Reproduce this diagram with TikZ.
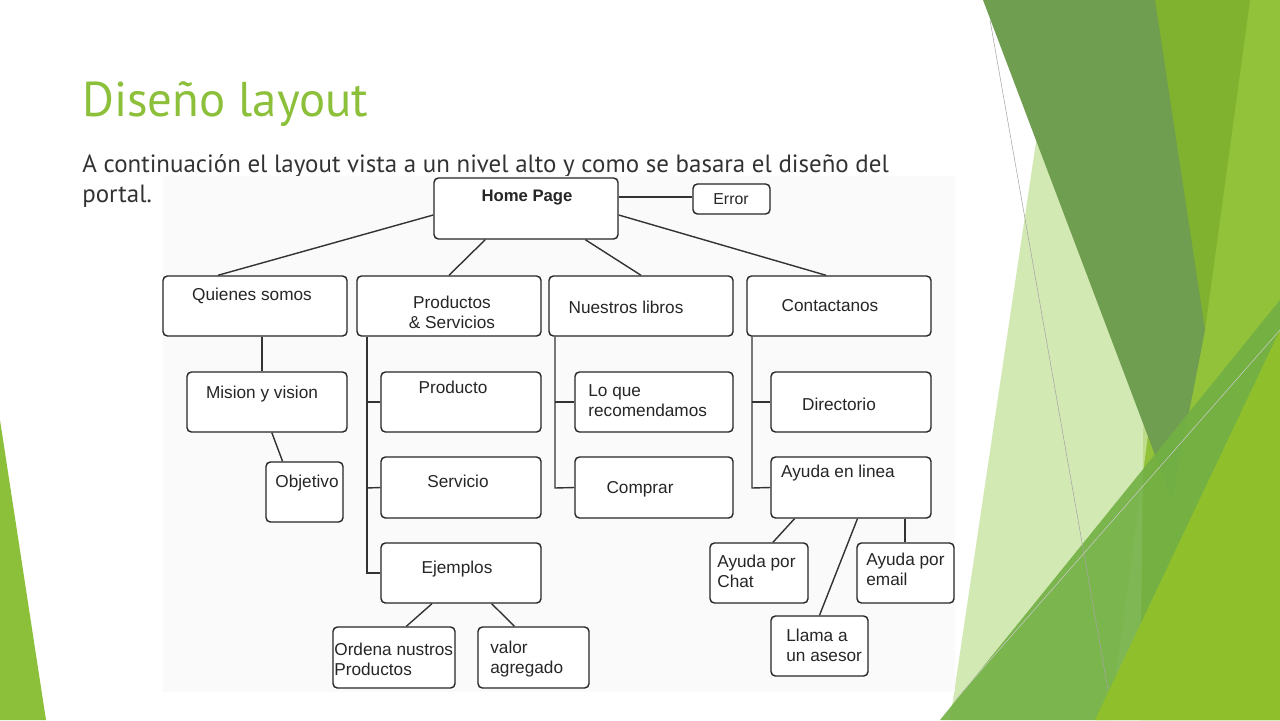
\documentclass[tikz,border=0pt]{standalone}
\usepackage{fontspec}
\setmainfont{Liberation Sans}
\newfontfamily\titlefont{PT Sans}
\usetikzlibrary{calc}
\definecolor{tgreen}{HTML}{8DC03A}
\tikzset{
 box/.style={draw=black!85,line width=0.8pt,rounded corners=2.5pt,fill=white,inner sep=0pt},
 lbl/.style={font=\fontsize{9.8}{11.5}\selectfont,align=left,inner sep=0pt,text=black!85},
 ln/.style={draw=black!80,line width=0.8pt},
 sub/.style={anchor=base west,inner sep=0pt,text=black!80,font=\titlefont\fontsize{14.2}{17}\selectfont}
}
\newcommand{\bx}[5]{\node[box,minimum width=#4*0.02cm,minimum height=#5*0.02cm] (#1) at (#2,#3) {};}
\begin{document}
\begin{tikzpicture}[x=0.02cm,y=-0.02cm]
\useasboundingbox (0,0) rectangle (1280,720);
\fill[white] (0,0) rectangle (1280,720);
% decorations
\fill[tgreen] (0,420) -- (46,720) -- (0,720) -- cycle;
\fill[fill={rgb,255:red,146;green,193;blue,58}] (1148,0) -- (1280,0) -- (1280,720) -- (1140,720) -- cycle;
\fill[fill={rgb,255:red,128;green,178;blue,48}] (1148,0) -- (1250,0) -- (1205,330) -- cycle;
\fill[fill={rgb,255:red,200;green,228;blue,160},opacity=0.8] (1040,115) -- (1150,420) -- (1110,720) -- (950,720) -- cycle;
\fill[fill={rgb,255:red,111;green,158;blue,80}] (983,0) -- (1155,0) -- (1205,330) -- (1172,500) -- cycle;
\fill[fill={rgb,255:red,114;green,176;blue,67},opacity=0.9] (940,720) -- (1280,300) -- (1280,720) -- cycle;
\fill[fill={rgb,255:red,143;green,192;blue,44}] (1095,720) -- (1280,330) -- (1280,720) -- cycle;
\draw[black!35,line width=0.3pt] (990,20) -- (1108,690);
\draw[black!20,line width=0.3pt] (955,700) -- (1280,330);
% title
\node[anchor=base west,inner sep=0pt,text=tgreen,font=\titlefont\fontsize{27.8}{30}\selectfont] (title) at (82,116) {Diseño layout};
\node[sub] (sub1) at (82,172) {A continuación el layout vista a un nivel alto y como se basara el diseño del};
\node[sub] (sub2) at (82,202) {portal.};
% diagram background
\fill[black!2] (163,176) rectangle (955,692);
% boxes
\bx{home}{526}{208.5}{184}{61}
\bx{err}{731.5}{199}{77}{30}
\bx{qs}{255}{306}{184}{60}
\bx{ps}{449}{306}{184}{60}
\bx{nl}{641}{306}{184}{60}
\bx{ct}{839}{306}{184}{60}
\bx{mv}{267}{402}{160}{60}
\bx{ob}{304.5}{492}{77}{60}
\bx{pr}{461}{402}{160}{60}
\bx{se}{461}{487.5}{160}{61}
\bx{ej}{461}{573}{160}{60}
\bx{or}{394}{657.5}{122}{61}
\bx{va}{533.5}{657.5}{111}{61}
\bx{lq}{654}{402}{158}{60}
\bx{co}{654}{487.5}{158}{61}
\bx{di}{851}{402}{160}{60}
\bx{ay}{851}{487.5}{160}{61}
\bx{ch}{759}{573}{98}{60}
\bx{em}{905.5}{573}{97}{60}
\bx{ll}{819.5}{646}{97}{60}
% texts
\node[lbl,font=\bfseries\fontsize{9.5}{11}\selectfont] (thome) at (527,198) {Home Page};
\node[lbl,font=\fontsize{9}{11}\selectfont] (terr) at (731,199) {Error};
\node[lbl] (tqs) at (252,296) {Quienes somos};
\node[lbl,align=center] (tps) at (452,312) {Productos\\ \& Servicios};
\node[lbl] (tnl) at (626,307) {Nuestros libros};
\node[lbl] (tct) at (830,306) {Contactanos};
\node[lbl] (tmv) at (262,394) {Mision y vision};
\node[lbl] (tob) at (307,483) {Objetivo};
\node[lbl] (tpr) at (453,387) {Producto};
\node[lbl] (tse) at (458,481) {Servicio};
\node[lbl] (tej) at (457,569) {Ejemplos};
\node[lbl,anchor=west] (tor) at (334,659) {Ordena nustros\\Productos};
\node[lbl,anchor=west] (tva) at (490,659) {valor\\agregado};
\node[lbl,anchor=west] (tlq) at (588,401) {Lo que\\recomendamos};
\node[lbl] (tco) at (640,489) {Comprar};
\node[lbl] (tdi) at (839,404) {Directorio};
\node[lbl] (tay) at (838,473) {Ayuda en linea};
\node[lbl,anchor=west] (tch) at (717,571) {Ayuda por\\Chat};
\node[lbl,anchor=west] (tem) at (866,569) {Ayuda por\\email};
\node[lbl,anchor=west] (tll) at (786,645) {Llama a\\un asesor};
% connectors
\draw[ln] (home.west|-215,215) -- ($(qs.north west)!0.3!(qs.north east)$);
\draw[ln] ($(home.south west)!0.28!(home.south east)$) -- ($(ps.north west)!0.5!(ps.north east)$);
\draw[ln] ($(home.south west)!0.82!(home.south east)$) -- ($(nl.north west)!0.5!(nl.north east)$);
\draw[ln] (home.east|-215,215) -- ($(ct.north west)!0.43!(ct.north east)$);
\draw[ln] (home.east|-197,197) -- (err.west|-197,197);
\draw[ln] (qs.south-|262,0) -- (mv.north-|262,0);
\draw[ln] ($(mv.south west)!0.53!(mv.south east)$) -- ($(ob.north west)!0.22!(ob.north east)$);
\draw[ln] (ps.south-|367,0) -- (367,573) -- (ej.west);
\draw[ln] (367,402) -- (pr.west);
\draw[ln] (367,488) -- (se.west);
\draw[ln] (nl.south-|555,0) -- (555,488) -- (co.west);
\draw[ln] (555,402) -- (lq.west);
\draw[ln] (ct.south-|752,0) -- (752,488) -- (ay.west);
\draw[ln] (752,402) -- (di.west);
\draw[ln] ($(ej.south west)!0.32!(ej.south east)$) -- ($(or.north west)!0.6!(or.north east)$);
\draw[ln] ($(ej.south west)!0.69!(ej.south east)$) -- ($(va.north west)!0.33!(va.north east)$);
\draw[ln] ($(ay.south west)!0.15!(ay.south east)$) -- ($(ch.north west)!0.64!(ch.north east)$);
\draw[ln] ($(ay.south west)!0.54!(ay.south east)$) -- ($(ll.north west)!0.5!(ll.north east)$);
\draw[ln] (ay.south-|905,0) -- (em.north-|905,0);
\end{tikzpicture}
\end{document}
